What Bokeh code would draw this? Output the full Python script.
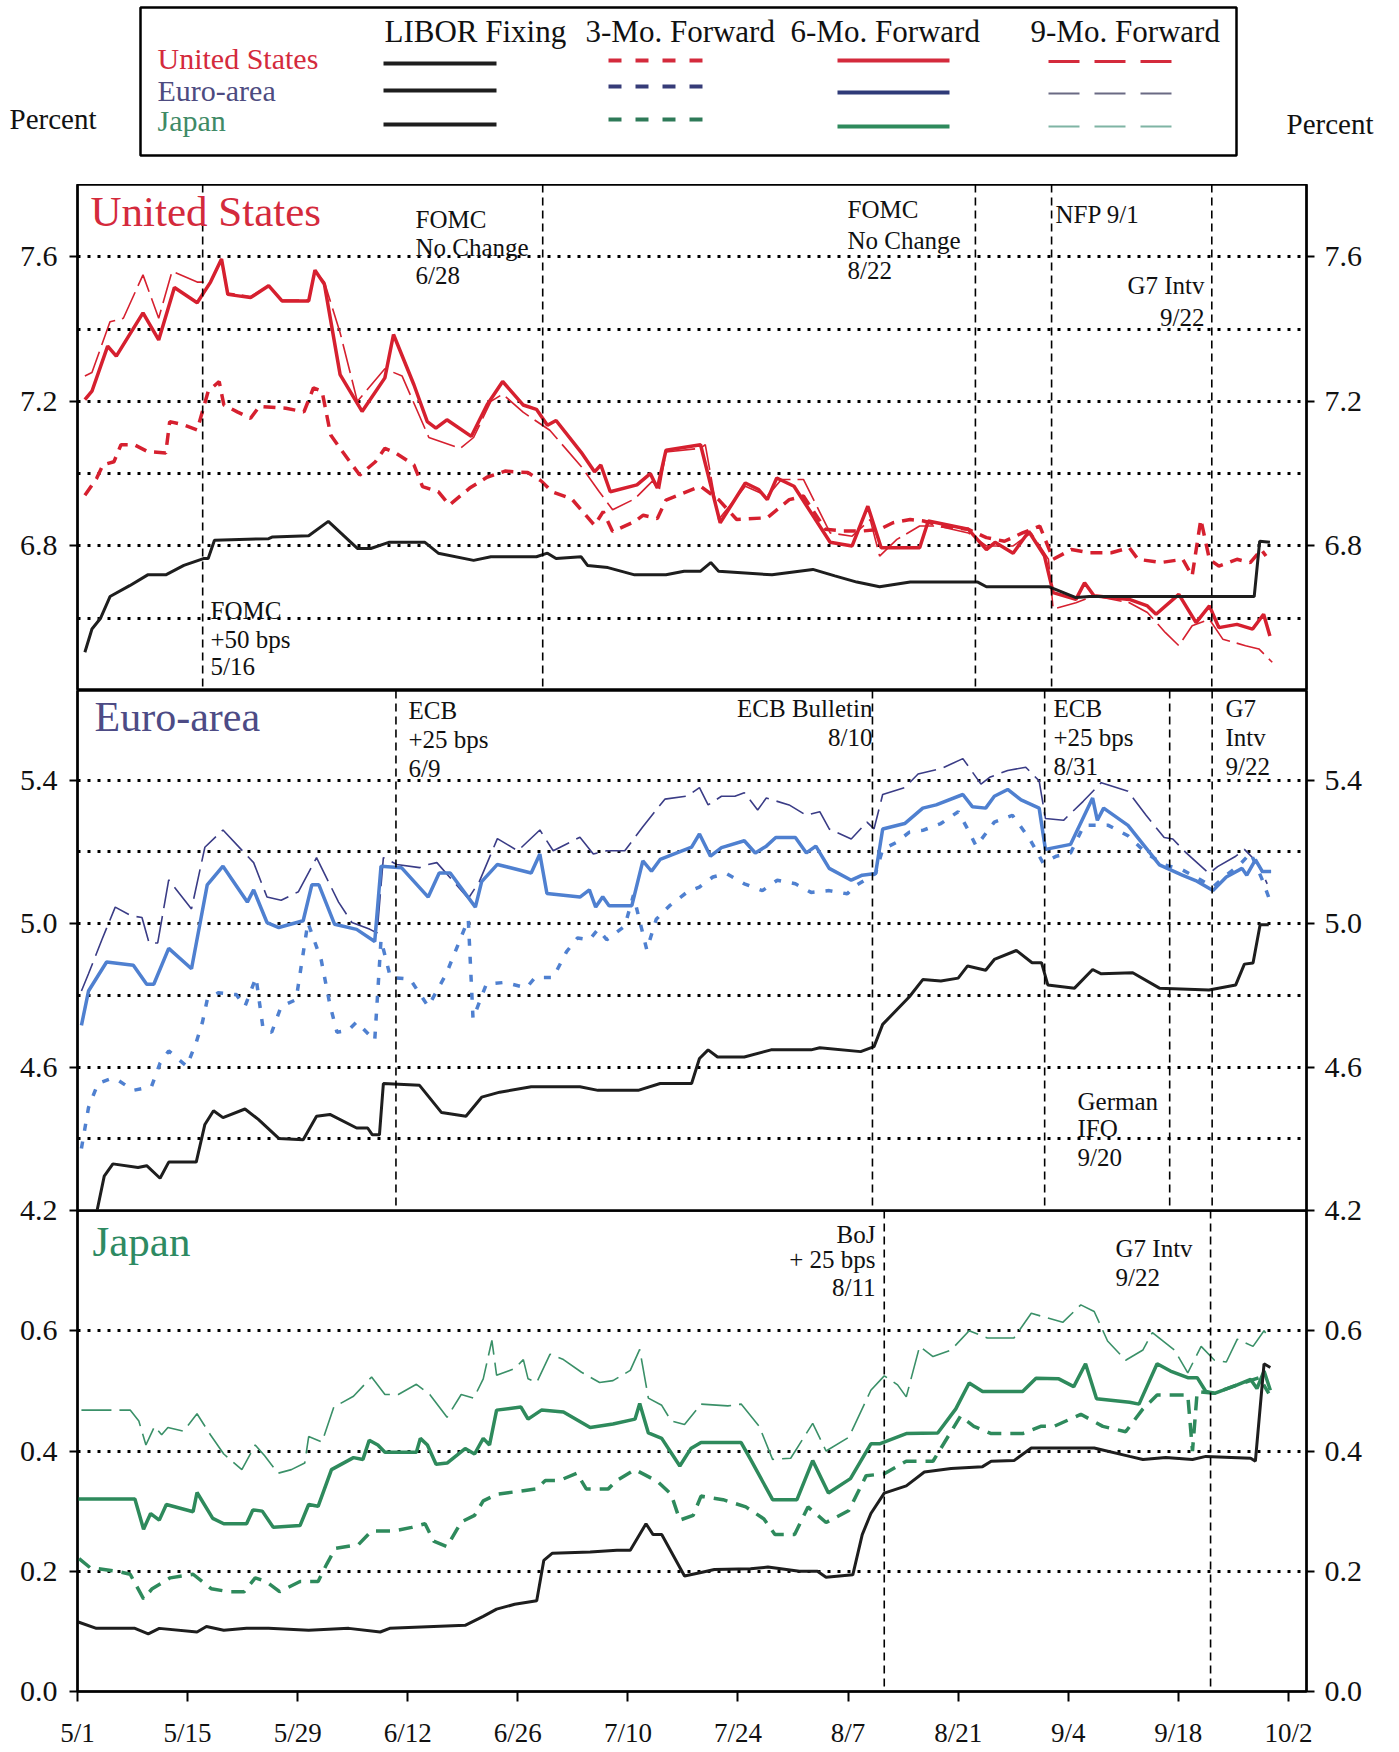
from bokeh.plotting import figure
from bokeh.models import Range1d, LinearAxis, FixedTicker, Span, Label, Grid, PrintfTickFormatter
from bokeh.layouts import column
from bokeh.embed import file_html
from bokeh.resources import INLINE
from bokeh.core.properties import value

FONT = "Liberation Serif"

# ---------------- x axis (days since 5/1) ----------------
TICK_DAYS = [0, 14, 28, 42, 56, 70, 84, 98, 112, 126, 140, 154]
TICK_LABELS = ["5/1", "5/15", "5/29", "6/12", "6/26", "7/10", "7/24", "8/7", "8/21", "9/4", "9/18", "10/2"]

# ---------------- United States ----------------
US_LIBOR_DAY = [0.3, 1.2, 2.3, 3.5, 6, 8.3, 10.6, 12.9, 15.4, 16, 16.8, 23.7, 24.2, 28.8, 31.3, 35, 36.7, 39, 43.6, 45.3,
                49.8, 52, 57.8, 59.2, 60.3, 63.5, 64.3, 66.9, 70.3, 74.3, 76.6, 78.7, 80, 81, 87.8, 93, 95.8, 98.6, 101.5, 105.4,
                114, 115.1, 123.1, 126.5, 128.2, 149.2, 149.9, 151.2]
US_LIBOR = [6.506, 6.57, 6.60, 6.66, 6.69, 6.72, 6.72, 6.746, 6.765, 6.765, 6.816, 6.82, 6.825, 6.828, 6.868, 6.793, 6.793, 6.81, 6.81, 6.78,
            6.76, 6.77, 6.77, 6.78, 6.765, 6.77, 6.746, 6.74, 6.72, 6.72, 6.73, 6.73, 6.754, 6.73, 6.72, 6.735, 6.717, 6.70, 6.687, 6.70,
            6.70, 6.687, 6.687, 6.657, 6.66, 6.66, 6.813, 6.81]

US_3M_DAY = [0.3, 1.8, 2.6, 4, 4.9, 6.6, 8.3, 10.6, 11.1, 12.9, 14.6, 16, 17.4, 18, 19.7, 21.4, 22.5, 25.9, 28.2, 29.4,
             30.5, 31.6, 32.8, 35.3, 37.3, 38.5, 39.9, 42.2, 43.3, 45.3, 46.7, 49.3, 51.5, 53.8, 56.7, 58.4, 59.8, 62.3, 65.2, 66.3,
             67.5, 70.3, 71.4, 73.2, 74.3, 78.7, 81, 83.3, 87.2, 90, 91.8, 94.6, 96.9, 99.2, 101.5, 103.2, 105.4, 107.1, 109.4, 112.8,
             115.1, 117.4, 119.7, 121.9, 123.6, 125.9, 128.2, 131, 133.3, 134.4, 137.3, 140.1, 141.3, 142.4, 143.5, 144.7, 147, 148.7, 150.1, 150.7]
US_3M = [6.94, 6.987, 7.024, 7.033, 7.08, 7.08, 7.061, 7.057, 7.144, 7.135, 7.121, 7.228, 7.255, 7.19, 7.171, 7.153, 7.186, 7.181, 7.171, 7.237,
         7.228, 7.107, 7.07, 6.996, 7.033, 7.07, 7.057, 7.024, 6.964, 6.95, 6.913, 6.96, 6.99, 7.007, 7.003, 6.98, 6.95, 6.93, 6.857, 6.895,
         6.84, 6.867, 6.885, 6.876, 6.927, 6.965, 6.928, 6.873, 6.878, 6.928, 6.938, 6.846, 6.841, 6.841, 6.846, 6.864, 6.873, 6.869, 6.855, 6.846,
         6.823, 6.813, 6.836, 6.855, 6.763, 6.79, 6.781, 6.781, 6.795, 6.763, 6.754, 6.763, 6.717, 6.873, 6.763, 6.744, 6.763, 6.754, 6.79, 6.772]

US_6M_DAY = [0.3, 1.2, 3.2, 4.3, 7.7, 9.7, 11.7, 14.6, 16.3, 17.7, 18.5, 21.4, 23.7, 25.4, 28.8, 29.6, 30.8, 32.8, 35.6, 38.5,
             39.6, 42.2, 43.9, 45, 46.4, 49.5, 51.5, 53.5, 56.1, 57.8, 59.2, 60.3, 63.5, 65.2, 66, 67.2, 70.6, 72.3, 73.2, 74.3,
             78.7, 81.2, 84.4, 86.1, 87.2, 88.4, 90.6, 95.2, 98, 100, 101.7, 106.6, 107.7, 112.8, 115.1, 116.2, 118.5, 120.5, 122.5, 123.6,
             126.5, 127.6, 128.8, 133.3, 135.6, 136.7, 139.6, 141.8, 143.5, 144.7, 147, 149, 150.4, 151.2]
US_6M = [7.205, 7.228, 7.353, 7.325, 7.445, 7.37, 7.515, 7.473, 7.53, 7.594, 7.496, 7.487, 7.52, 7.478, 7.478, 7.563, 7.524, 7.274, 7.172, 7.265,
         7.385, 7.246, 7.144, 7.126, 7.149, 7.103, 7.19, 7.255, 7.19, 7.178, 7.134, 7.147, 7.059, 7.005, 7.024, 6.95, 6.969, 7.0, 6.96, 7.065,
         7.08, 6.864, 6.974, 6.956, 6.928, 6.988, 6.965, 6.81, 6.8, 6.91, 6.795, 6.795, 6.869, 6.846, 6.79, 6.81, 6.78, 6.84, 6.772, 6.671,
         6.652, 6.698, 6.662, 6.652, 6.634, 6.611, 6.666, 6.588, 6.634, 6.574, 6.583, 6.57, 6.611, 6.551]

US_9M_DAY = [0.3, 1.2, 3.5, 5.2, 7.7, 9.7, 11.4, 14.6, 16.3, 17.7, 18.5, 21.4, 23.7, 25.4, 28.8, 29.6, 30.8, 32.8, 35, 38.5,
             40.7, 44.1, 48.1, 49.8, 52, 53.5, 56.1, 59.5, 63.5, 65.8, 67.5, 70.3, 72.6, 73.4, 74.3, 78.7, 79.3, 81, 84.4, 87.2,
             89, 91.8, 95.2, 98, 100.3, 101.5, 103.7, 106.6, 108.9, 112.8, 115.1, 118.5, 120.8, 123, 123.6, 126.5, 128.8, 133.3, 135.6, 137.9,
             139.6, 141.3, 143.5, 145.2, 148.1, 149.8, 151.5]
US_9M = [7.27, 7.28, 7.42, 7.43, 7.55, 7.43, 7.56, 7.53, 7.53, 7.594, 7.50, 7.49, 7.52, 7.48, 7.48, 7.56, 7.53, 7.39, 7.2, 7.29,
         7.27, 7.1, 7.07, 7.10, 7.2, 7.22, 7.17, 7.12, 7.02, 6.95, 6.90, 6.93, 6.98, 6.95, 7.06, 7.07, 7.08, 6.873, 6.965, 6.938,
         6.984, 6.984, 6.836, 6.827, 6.873, 6.772, 6.818, 6.855, 6.855, 6.836, 6.8, 6.8, 6.836, 6.763, 6.625, 6.643, 6.662, 6.643, 6.616, 6.56,
         6.524, 6.579, 6.597, 6.542, 6.524, 6.515, 6.478]

# ---------------- Euro-area ----------------
EU_LIBOR_DAY = [2.3, 3.4, 4.5, 7.7, 8.8, 10.5, 11.6, 15.1, 16.2, 17.3, 18.5, 21.3, 23, 25.6, 28.7, 30.4, 32.1, 35.5, 36.9, 37.5,
                38.4, 38.9, 43.5, 46.3, 49.4, 51.4, 53.7, 57.7, 63.9, 66.2, 71.3, 74.1, 78.1, 79.1, 80.2, 81.4, 84.8, 88.2, 93.3, 94.4,
                99.6, 101.3, 102.4, 105.8, 107.5, 109.8, 112, 113.2, 115.5, 116.6, 119.4, 121.4, 122.6, 123.4, 126.8, 129.1, 130.2, 134.2, 137.6, 143.9,
                147.3, 148.4, 149.5, 150.4, 151.5]
EU_LIBOR = [4.18, 4.296, 4.33, 4.32, 4.325, 4.29, 4.335, 4.335, 4.44, 4.478, 4.459, 4.483, 4.454, 4.401, 4.397, 4.463, 4.468, 4.43, 4.43, 4.411,
            4.411, 4.554, 4.549, 4.473, 4.463, 4.516, 4.53, 4.545, 4.545, 4.535, 4.535, 4.554, 4.554, 4.624, 4.648, 4.628, 4.628, 4.648, 4.648, 4.654,
            4.643, 4.657, 4.719, 4.796, 4.844, 4.84, 4.848, 4.882, 4.87, 4.9, 4.925, 4.891, 4.891, 4.829, 4.82, 4.872, 4.86, 4.863, 4.82, 4.815,
            4.829, 4.887, 4.89, 4.997, 4.997]

EU_3M_DAY = [0.5, 1.4, 2.6, 4.3, 5.1, 7.1, 9.4, 10.5, 11.6, 13.9, 15.1, 15.9, 16.5, 17.9, 20.2, 21.3, 22.7, 23.6, 24.7, 25.9,
             27.8, 29.3, 31, 32.1, 33, 34.4, 35.5, 37.8, 38.6, 39.8, 42.3, 44.6, 46.9, 49.7, 50.3, 52, 54.3, 57.1, 58.2, 60.5,
             62.2, 63.6, 65.1, 66.2, 67.3, 69.6, 70.7, 72.4, 73.6, 75.3, 77.6, 79.1, 80.8, 82.5, 84.8, 87.1, 89, 91.3, 93.3, 95.6,
             97.9, 98.7, 101.5, 102.4, 104.1, 105.8, 107.5, 109.8, 112, 113.2, 114.3, 116.6, 118.9, 121.1, 122.8, 124.5, 126.3, 128, 131.1, 133.6,
             135.9, 138.2, 140.5, 142.2, 144.4, 146.1, 147.8, 149.2, 150.7, 151.5]
EU_3M = [4.373, 4.487, 4.554, 4.568, 4.564, 4.535, 4.545, 4.611, 4.645, 4.602, 4.669, 4.726, 4.788, 4.807, 4.802, 4.769, 4.85, 4.707, 4.697, 4.769,
         4.788, 5.003, 4.898, 4.774, 4.697, 4.702, 4.726, 4.674, 4.955, 4.85, 4.845, 4.769, 4.86, 5.012, 4.735, 4.831, 4.836, 4.821, 4.85, 4.85,
         4.922, 4.96, 4.955, 4.984, 4.955, 4.993, 5.079, 4.927, 5.012, 5.05, 5.089, 5.102, 5.13, 5.14, 5.111, 5.092, 5.121, 5.111, 5.087, 5.092,
         5.083, 5.102, 5.14, 5.207, 5.226, 5.255, 5.26, 5.279, 5.312, 5.264, 5.216, 5.283, 5.302, 5.236, 5.169, 5.188, 5.197, 5.274, 5.274, 5.245,
         5.197, 5.164, 5.15, 5.13, 5.102, 5.135, 5.164, 5.197, 5.121, 5.073]

EU_6M_DAY = [0.5, 1.4, 3.7, 7.1, 8.8, 9.7, 11.6, 14.5, 16.5, 18.5, 21.6, 22.4, 24.1, 25.6, 28.7, 29.8, 30.7, 32.7, 35.5, 37.8,
             38.6, 41.2, 44.6, 46, 47.4, 50.6, 51.4, 53.4, 57.7, 58.8, 59.7, 63.9, 65.1, 65.9, 66.8, 67.6, 70.5, 71.9, 73, 74.1,
             78.1, 79.1, 80.5, 81.9, 84.8, 86.2, 87.6, 88.8, 91.3, 92.7, 93.9, 95.6, 98.4, 99.8, 101.5, 102.4, 105.2, 107.5, 109.2, 112.6,
             113.8, 115.5, 116.6, 118.3, 120, 122.3, 123.1, 126.3, 129.1, 129.7, 130.5, 133.6, 137.6, 140.5, 142.2, 144.4, 146.1, 148.1, 148.7, 149.8,
             150.7, 151.8]
EU_6M = [4.716, 4.812, 4.893, 4.884, 4.831, 4.831, 4.931, 4.874, 5.108, 5.16, 5.06, 5.094, 5.003, 4.989, 5.008, 5.108, 5.108, 4.998, 4.984, 4.95,
         5.16, 5.156, 5.074, 5.141, 5.141, 5.046, 5.117, 5.165, 5.141, 5.194, 5.084, 5.074, 5.094, 5.046, 5.075, 5.05, 5.05, 5.175, 5.146, 5.179,
         5.213, 5.25, 5.188, 5.212, 5.231, 5.197, 5.216, 5.24, 5.24, 5.197, 5.216, 5.154, 5.121, 5.135, 5.14, 5.264, 5.279, 5.322, 5.331, 5.36,
         5.326, 5.322, 5.355, 5.374, 5.345, 5.322, 5.207, 5.221, 5.35, 5.288, 5.322, 5.274, 5.164, 5.135, 5.12, 5.092, 5.13, 5.154, 5.135, 5.178,
         5.145, 5.145]

EU_9M_DAY = [0.5, 1.4, 3.1, 4.8, 6.8, 8.2, 9.1, 10.2, 11.6, 14.5, 16.2, 18.5, 22.4, 24.1, 25.9, 28.1, 30.4, 33.2, 34.9, 37.2,
             38.1, 38.9, 40.6, 43.5, 44.6, 45.7, 49.7, 51.1, 53.4, 56, 58.8, 60.5, 63.9, 65.6, 67.3, 69.6, 71.9, 74.7, 77.6, 79.1,
             80.2, 81.9, 83.6, 84.8, 86.5, 87.6, 90.5, 92.7, 94.4, 95.6, 98.4, 100.4, 101.3, 102.4, 105.2, 106.9, 109.8, 112.6, 114.9, 116,
             118.3, 120.6, 122.3, 123.1, 125.4, 127.9, 130.2, 133.6, 135.9, 138.2, 139.3, 141, 143.9, 145, 147.3, 148.4, 150.1, 151.3]
EU_9M = [4.812, 4.86, 4.955, 5.046, 5.022, 5.017, 4.946, 4.946, 5.122, 5.041, 5.213, 5.261, 5.17, 5.074, 5.065, 5.089, 5.184, 5.06, 5.003, 4.984,
         4.974, 5.184, 5.165, 5.156, 5.165, 5.17, 5.07, 5.117, 5.237, 5.203, 5.261, 5.203, 5.241, 5.194, 5.203, 5.203, 5.27, 5.347, 5.356, 5.379,
         5.331, 5.355, 5.355, 5.365, 5.317, 5.35, 5.331, 5.302, 5.312, 5.264, 5.236, 5.283, 5.264, 5.36, 5.379, 5.417, 5.432, 5.46, 5.389, 5.408,
         5.427, 5.436, 5.398, 5.293, 5.288, 5.341, 5.393, 5.369, 5.302, 5.24, 5.236, 5.197, 5.14, 5.159, 5.188, 5.207, 5.169, 5.111]

# ---------------- Japan ----------------
JP_LIBOR_DAY = [0, 2.4, 7.3, 9, 10.4, 15.2, 16.4, 18.6, 21.5, 24.3, 29.4, 34.5, 38.5, 39.7, 49.3, 51.6, 53.3, 55.6, 58.4, 59.3,
                60.4, 65.2, 68.6, 70.3, 72.3, 73.2, 74.3, 77.2, 79.3, 81, 85.6, 87.8, 91.8, 94.1, 95.2, 98.6, 99.8, 100.9, 102.6, 105.4,
                107.7, 111.1, 115.1, 116.2, 119.1, 121.3, 129.3, 133.8, 135.5, 138.4, 141.8, 143.5, 149.2, 149.8, 150.9, 151.7]
JP_LIBOR = [0.116, 0.105, 0.105, 0.096, 0.105, 0.099, 0.108, 0.102, 0.105, 0.105, 0.102, 0.105, 0.099, 0.105, 0.11, 0.125, 0.137, 0.145, 0.151, 0.218,
            0.23, 0.232, 0.235, 0.235, 0.279, 0.261, 0.261, 0.192, 0.198, 0.203, 0.204, 0.207, 0.2, 0.2, 0.19, 0.194, 0.261, 0.296, 0.33, 0.342,
            0.365, 0.371, 0.374, 0.383, 0.384, 0.405, 0.405, 0.391, 0.386, 0.389, 0.386, 0.391, 0.388, 0.383, 0.545, 0.539]

JP_3M_DAY = [0.2, 1.6, 5, 6.7, 8.4, 9.5, 11.8, 14.7, 17, 19.2, 21.2, 22.6, 24, 25.7, 28.3, 30.6, 31.7, 32.8, 35.7, 37.4,
             40.2, 42.5, 44.2, 45.3, 47, 48.8, 50.5, 51.6, 53.3, 56.7, 58.4, 59.5, 61.3, 63.5, 64.7, 67.5, 68.6, 70.9, 73.8, 75.5,
             76.6, 78.3, 79.3, 82.1, 85, 87.3, 88.7, 91.2, 92.9, 95.2, 98.1, 100.3, 102.6, 105.4, 108.8, 112.3, 114, 116.2, 120.2, 122.5,
             124.2, 127.6, 130.4, 133.3, 135.5, 137.3, 141.2, 141.8, 142.4, 144.6, 147.5, 150.3, 151.5]
JP_3M = [0.221, 0.206, 0.2, 0.195, 0.154, 0.171, 0.189, 0.195, 0.171, 0.166, 0.166, 0.189, 0.183, 0.166, 0.183, 0.183, 0.212, 0.238, 0.244, 0.267,
         0.267, 0.273, 0.279, 0.25, 0.241, 0.282, 0.293, 0.317, 0.328, 0.334, 0.337, 0.351, 0.351, 0.363, 0.337, 0.337, 0.351, 0.369, 0.349, 0.328,
         0.285, 0.293, 0.325, 0.319, 0.307, 0.287, 0.261, 0.261, 0.307, 0.281, 0.301, 0.359, 0.362, 0.383, 0.383, 0.458, 0.441, 0.429, 0.429, 0.441,
         0.441, 0.461, 0.441, 0.432, 0.47, 0.493, 0.493, 0.4, 0.499, 0.496, 0.51, 0.522, 0.496]

JP_6M_DAY = [0, 7.3, 8.4, 9.3, 10.4, 11.3, 14.7, 15.2, 17.2, 18.6, 21.5, 22.3, 23.5, 24.9, 28.3, 29.4, 30.6, 32.3, 35.1, 36.3,
             37.1, 38.2, 39.1, 43.1, 43.6, 44.5, 45.6, 47, 49.3, 50.5, 51.6, 52.4, 53.3, 56.4, 57.3, 59, 61.8, 65.2, 68.1, 70.9,
             71.5, 72.6, 74.3, 76.6, 78, 79.3, 84.4, 85.6, 88.4, 91.5, 93.5, 95.5, 98.3, 100.9, 102, 105.4, 109.4, 111.7, 113.4, 115.1,
             120.2, 121.9, 124.8, 126.7, 128.2, 129.6, 133.8, 135, 137.3, 139, 141.2, 142.4, 143.5, 144.6, 147.5, 149.2, 150, 150.9, 151.7]
JP_6M = [0.32, 0.32, 0.27, 0.296, 0.285, 0.311, 0.299, 0.331, 0.288, 0.279, 0.279, 0.302, 0.30, 0.273, 0.276, 0.311, 0.308, 0.369, 0.389, 0.386,
         0.418, 0.41, 0.398, 0.398, 0.421, 0.41, 0.378, 0.38, 0.404, 0.395, 0.421, 0.41, 0.468, 0.473, 0.453, 0.468, 0.465, 0.439, 0.445, 0.453,
         0.479, 0.43, 0.421, 0.375, 0.404, 0.414, 0.414, 0.386, 0.319, 0.319, 0.384, 0.33, 0.354, 0.412, 0.412, 0.429, 0.43, 0.47, 0.513, 0.499,
         0.499, 0.521, 0.52, 0.507, 0.545, 0.487, 0.481, 0.478, 0.545, 0.533, 0.522, 0.522, 0.499, 0.496, 0.51, 0.519, 0.504, 0.533, 0.501]

JP_9M_DAY = [0.5, 6.7, 7.8, 8.7, 9.8, 10.7, 11.5, 13.5, 15.2, 16.9, 18.6, 20.9, 22.6, 23.8, 25.5, 27.2, 28.9, 29.4, 31.1, 32.6,
             35.1, 37.4, 39.1, 40.8, 43.1, 44.8, 47, 48.8, 50.4, 51.6, 52.7, 53.3, 55.6, 56.7, 57.3, 58.4, 60.1, 61.8, 64.1, 66.4,
             68.1, 70.3, 71.5, 72.6, 74.3, 75.5, 77.2, 79.3, 82.7, 84.4, 86.7, 88.4, 90.7, 93.5, 95.2, 98.1, 100.9, 102.6, 104.3, 105.4,
             107.1, 108.8, 111.1, 113.4, 115.7, 119.1, 121.3, 125.3, 127.6, 129.3, 131, 133.3, 135.5, 136.7, 139.5, 141.2, 142.9, 144.6, 146.1, 147.5,
             149.5, 150.9, 151.7]
JP_9M = [0.468, 0.468, 0.45, 0.41, 0.441, 0.427, 0.439, 0.433, 0.462, 0.427, 0.395, 0.369, 0.41, 0.392, 0.363, 0.369, 0.38, 0.424, 0.415, 0.473,
         0.491, 0.523, 0.494, 0.494, 0.511, 0.494, 0.456, 0.494, 0.488, 0.52, 0.584, 0.526, 0.537, 0.552, 0.52, 0.514, 0.561, 0.552, 0.531, 0.514,
         0.517, 0.534, 0.569, 0.488, 0.476, 0.45, 0.444, 0.478, 0.475, 0.478, 0.441, 0.386, 0.388, 0.446, 0.4, 0.423, 0.501, 0.525, 0.51, 0.49,
         0.574, 0.557, 0.568, 0.6, 0.588, 0.588, 0.629, 0.614, 0.643, 0.632, 0.583, 0.551, 0.568, 0.597, 0.568, 0.53, 0.574, 0.551, 0.548, 0.586,
         0.574, 0.6, 0.586]

# ---------------- axes / events ----------------
US_TICKS = [6.8, 7.2, 7.6]
US_GRID = [6.6, 6.8, 7.0, 7.2, 7.4, 7.6]
EU_TICKS = [4.2, 4.6, 5.0, 5.4]
EU_GRID = [4.4, 4.6, 4.8, 5.0, 5.2, 5.4]
JP_TICKS = [0.0, 0.2, 0.4, 0.6]
JP_GRID = [0.2, 0.4, 0.6]

US_EVENTS = [15.3, 58.6, 113.7, 123.4, 143.8]
EU_EVENTS = [40.5, 101.1, 123.0, 138.9, 144.3]
JP_EVENTS = [102.6, 144.1]

SERIES_NAMES = ["LIBOR Fixing", "3-Mo. Forward", "6-Mo. Forward", "9-Mo. Forward"]
REGIONS = ["United States", "Euro-area", "Japan"]

RED = "#d6202f"
EU_LIGHT = "#4f80d0"
EU_DARK = "#3a3c86"
GREEN = "#2e8a5c"
BLACK = "#1e1e1e"

# layout (page pixels; the page has no margin)
PAGE_W = 1390
FRAME_L = 77
FRAME_R = 1306
FRAME_W = FRAME_R - FRAME_L
MID = 0.34  # distance from baseline to the middle of the em box, in em


def make_panel(top, fh, xr, yr, ticks, grid, bottom_border):
    p = figure(width=PAGE_W, frame_height=fh, x_range=Range1d(*xr), y_range=Range1d(*yr),
               x_axis_location=None, y_axis_location=None, toolbar_location=None,
               output_backend="svg", min_border_left=FRAME_L, min_border_right=PAGE_W - FRAME_R,
               min_border_top=0, min_border_bottom=bottom_border)
    p.outline_line_color = "black"
    p.outline_line_width = 2.5
    p.background_fill_alpha = 0
    p.border_fill_alpha = 0
    p.grid.visible = False
    p.add_layout(Grid(dimension=1, ticker=FixedTicker(ticks=grid), grid_line_color="black",
                      grid_line_width=2.8, grid_line_dash="3 7"))
    for side in ("left", "right"):
        ax = LinearAxis(ticker=FixedTicker(ticks=ticks), formatter=PrintfTickFormatter(format="%.1f"))
        ax.axis_line_width = 2
        ax.major_tick_out = 8
        ax.major_tick_in = 0
        ax.minor_tick_out = 0
        ax.minor_tick_in = 0
        ax.major_tick_line_width = 2
        ax.major_label_standoff = 12 if side == "left" else 10
        ax.major_label_text_font = FONT
        ax.major_label_text_font_size = "30px"
        ax.major_label_text_color = "#111111"
        p.add_layout(ax, side)

    def conv(px, py):
        x = xr[0] + (px - FRAME_L) / FRAME_W * (xr[1] - xr[0])
        y = yr[1] - (py - top) / fh * (yr[1] - yr[0])
        return x, y
    return p, conv


def add_events(p, days):
    for d in days:
        p.add_layout(Span(location=d, dimension="height", line_color="black",
                          line_width=1.6, line_dash="8 5"))


def add_notes(p, conv, notes, size=25, color="#111111"):
    # notes given as (text, x, baseline y) in page pixels
    for txt, px, py, align in notes:
        x, y = conv(px, py - MID * size)
        p.add_layout(Label(x=x, y=y, text=txt, text_font=FONT, text_font_size=f"{size}px",
                           text_color=color, text_align=align, text_baseline="middle"))


def add_series(p, libor, m3, m6, m9, c3, c6, c9, dash3, dash9):
    p.line(m9[0], m9[1], line_color=c9, line_width=1.6, line_dash=dash9)
    p.line(m3[0], m3[1], line_color=c3, line_width=3.5, line_dash=dash3)
    p.line(m6[0], m6[1], line_color=c6, line_width=3.5)
    p.line(libor[0], libor[1], line_color=BLACK, line_width=3)


# ---------------- legend header (data units = page pixels, frame = whole width) ----------------
leg = figure(width=PAGE_W, height=184, x_range=Range1d(0, PAGE_W), y_range=Range1d(184, 0),
             x_axis_location=None, y_axis_location=None, toolbar_location=None,
             output_backend="svg", min_border=0)
leg.outline_line_color = None
leg.grid.visible = False
leg.quad(left=[140], right=[1236], top=[7], bottom=[155], fill_color=None, line_color="black", line_width=2.5)


def leg_text(xs, baselines, texts, size, color):
    leg.text(x=xs, y=[b - MID * size for b in baselines], text=texts, text_font=value(FONT),
             text_font_size=f"{size}px", text_color=color, text_baseline="middle")


leg_text([384, 585, 790, 1030], [42, 42, 42, 42], SERIES_NAMES, 31, "#111111")
leg_text([157, 157, 157], [68, 100, 130], REGIONS, 30, ["#d42a3c", "#4d4b80", "#3f8a66"])
leg_text([9, 1286], [128, 133], ["Percent", "Percent"], 29, "#111111")

libor_y = [63, 90, 124]
m3_y = [60, 86, 119]
m6_y = [60, 92, 126]
m9_y = [61, 93, 126]
m3_c = ["#d42a3c", "#363c78", "#2e7a58"]
m6_c = ["#d42a3c", "#2f3a78", "#2e8a5c"]
m9_c = ["#d42a3c", "#6a6a84", "#7fb4a4"]
for i in range(3):
    leg.line([383, 496], [libor_y[i], libor_y[i]], line_color=BLACK, line_width=4)
    leg.line([608, 712], [m3_y[i], m3_y[i]], line_color=m3_c[i], line_width=4, line_dash="13 14")
    leg.line([837, 949], [m6_y[i], m6_y[i]], line_color=m6_c[i], line_width=4)
    leg.line([1048, 1176], [m9_y[i], m9_y[i]], line_color=m9_c[i], line_width=3 if i == 0 else 2, line_dash="31 15")

# ---------------- US panel ----------------
us, us_conv = make_panel(184, 506, (-0.64, 155.86), (6.4, 7.8), US_TICKS, US_GRID, 0)
add_events(us, US_EVENTS)
add_series(us, (US_LIBOR_DAY, US_LIBOR), (US_3M_DAY, US_3M), (US_6M_DAY, US_6M), (US_9M_DAY, US_9M),
           RED, RED, RED, "12 8", "30 7")
add_notes(us, us_conv, [("United States", 90, 226, "left")], size=43, color="#d42a3c")
add_notes(us, us_conv, [
    ("FOMC", 415, 227, "left"), ("No Change", 415, 255, "left"), ("6/28", 415, 283, "left"),
    ("FOMC", 210, 618, "left"), ("+50 bps", 210, 647, "left"), ("5/16", 210, 674, "left"),
    ("FOMC", 847, 217, "left"), ("No Change", 847, 248, "left"), ("8/22", 847, 278, "left"),
    ("NFP 9/1", 1055, 222, "left"),
    ("G7 Intv", 1204, 293, "right"), ("9/22", 1204, 325, "right"),
])

# ---------------- Euro panel ----------------
eu, eu_conv = make_panel(690, 520, (0, 156.3), (4.2, 5.65), EU_TICKS, EU_GRID, 16)
add_events(eu, EU_EVENTS)
add_series(eu, (EU_LIBOR_DAY, EU_LIBOR), (EU_3M_DAY, EU_3M), (EU_6M_DAY, EU_6M), (EU_9M_DAY, EU_9M),
           EU_LIGHT, EU_LIGHT, EU_DARK, "7 11", "30 8")
add_notes(eu, eu_conv, [("Euro-area", 94, 731, "left")], size=42, color="#4d4b85")
add_notes(eu, eu_conv, [
    ("ECB", 408, 718, "left"), ("+25 bps", 408, 747, "left"), ("6/9", 408, 776, "left"),
    ("ECB Bulletin", 872, 716, "right"), ("8/10", 872, 745, "right"),
    ("ECB", 1053, 716, "left"), ("+25 bps", 1053, 745, "left"), ("8/31", 1053, 774, "left"),
    ("G7", 1225, 716, "left"), ("Intv", 1225, 745, "left"), ("9/22", 1225, 774, "left"),
    ("German", 1077, 1109, "left"), ("IFO", 1077, 1136, "left"), ("9/20", 1077, 1165, "left"),
])

# ---------------- Japan panel ----------------
jp, jp_conv = make_panel(1210, 481, (0, 156.3), (0.0, 0.8), JP_TICKS, JP_GRID, 56)
jp.margin = (-16, 0, 0, 0)
add_events(jp, JP_EVENTS)
add_series(jp, (JP_LIBOR_DAY, JP_LIBOR), (JP_3M_DAY, JP_3M), (JP_6M_DAY, JP_6M), (JP_9M_DAY, JP_9M),
           GREEN, GREEN, "#3a9068", "14 9", "30 8")
xax = LinearAxis(ticker=FixedTicker(ticks=TICK_DAYS),
                 major_label_overrides={d: s for d, s in zip(TICK_DAYS, TICK_LABELS)})
xax.axis_line_width = 2
xax.major_tick_out = 10
xax.major_tick_in = 0
xax.minor_tick_out = 0
xax.minor_tick_in = 0
xax.major_tick_line_width = 2
xax.major_label_standoff = 16
xax.major_label_text_font = FONT
xax.major_label_text_font_size = "27px"
xax.major_label_text_color = "#111111"
jp.add_layout(xax, "below")
add_notes(jp, jp_conv, [("Japan", 92, 1256, "left")], size=43, color="#2e8a62")
add_notes(jp, jp_conv, [
    ("BoJ", 875, 1242, "right"), ("+ 25 bps", 875, 1267, "right"), ("8/11", 875, 1295, "right"),
    ("G7  Intv", 1115, 1256, "left"), ("9/22", 1115, 1285, "left"),
])

panels = column(us, eu, jp, spacing=0)
layout = column(leg, panels, spacing=0)
open("out.html", "w").write(file_html(layout, INLINE))
